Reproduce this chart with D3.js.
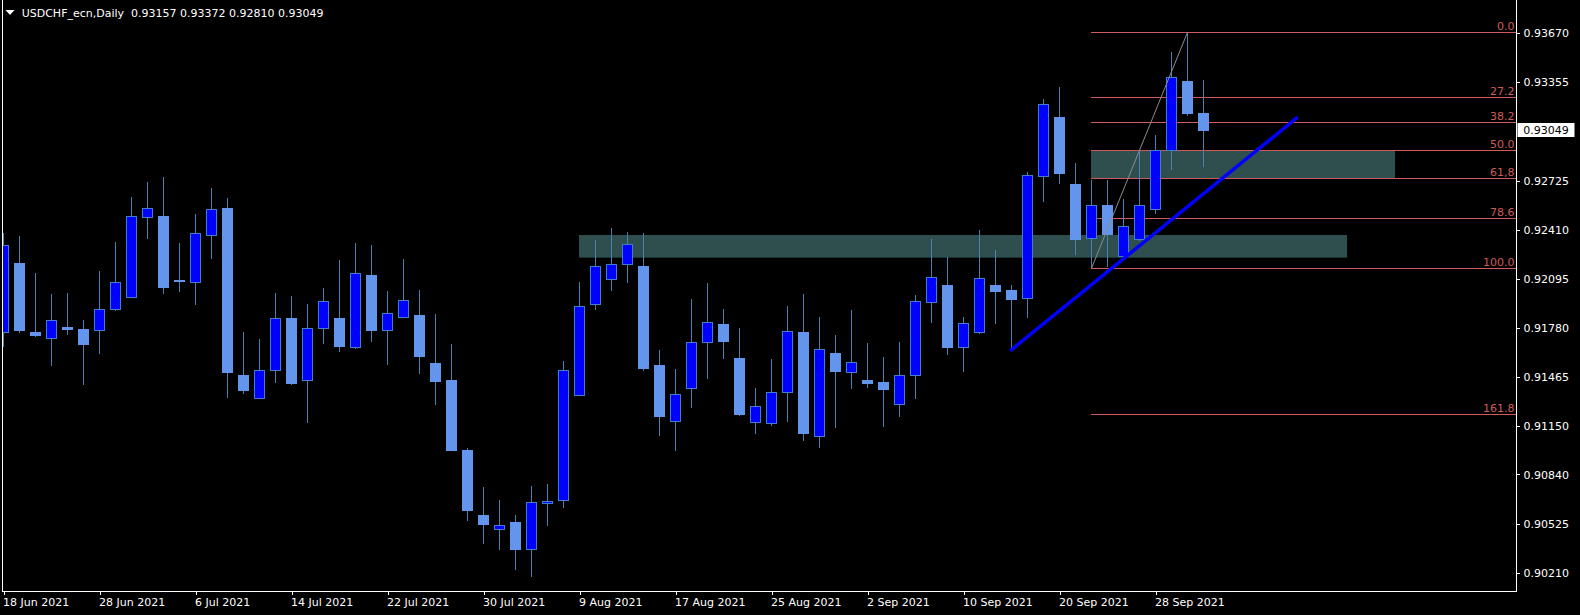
<!DOCTYPE html>
<html><head><meta charset="utf-8">
<script src="https://cdn.jsdelivr.net/npm/d3@7"></script>
<style>
html,body{margin:0;padding:0;background:#000;overflow:hidden}
svg{display:block}
text{font-family:"DejaVu Sans",sans-serif;font-size:11px;}
</style></head><body>
<svg id="c" width="1580" height="615"></svg>
<script>
const symbol = "USDCHF_ecn,Daily";
const openP = [0.91752,0.92195,0.91752,0.91714,0.91784,0.91771,0.91765,0.91900,0.91977,0.92490,
0.92492,0.92086,0.92073,0.92374,0.92543,0.91478,0.91329,0.91508,0.91842,0.91444,
0.91778,0.91842,0.91656,0.92118,0.91765,0.91846,0.91857,0.91549,0.91440,0.90997,
0.90580,0.90489,0.90535,0.90360,0.90653,0.90672,0.91345,0.91929,0.92090,0.92188,
0.92177,0.91542,0.91179,0.91393,0.91688,0.91805,0.91587,0.91175,0.91168,0.91367,
0.91748,0.91084,0.91613,0.91496,0.91440,0.91427,0.91290,0.91474,0.91945,0.92054,
0.91653,0.91752,0.92054,0.92022,0.91970,0.92753,0.93133,0.92703,0.92355,0.92567,
0.92240,0.92346,0.92539,0.92920,0.93364,0.93157];
const highP = [0.92387,0.92370,0.92131,0.91996,0.92002,0.91831,0.92145,0.92329,0.92620,0.92714,
0.92748,0.92323,0.92511,0.92678,0.92614,0.91754,0.91709,0.92004,0.91985,0.91934,
0.92036,0.92216,0.92325,0.92312,0.92017,0.92222,0.92023,0.91870,0.91677,0.91008,
0.90760,0.90676,0.90580,0.90766,0.90779,0.91568,0.92075,0.92344,0.92421,0.92396,
0.92389,0.91639,0.91517,0.91966,0.92068,0.91902,0.91780,0.91395,0.91581,0.91921,
0.91998,0.91848,0.91735,0.91893,0.91684,0.91594,0.91690,0.91991,0.92351,0.92233,
0.91850,0.92408,0.92280,0.92056,0.92778,0.93249,0.93326,0.92836,0.92729,0.92729,
0.92607,0.92915,0.93018,0.93550,0.93676,0.93372];
const lowP = [0.91656,0.91750,0.91724,0.91538,0.91737,0.91414,0.91615,0.91891,0.91975,0.92353,
0.92000,0.92013,0.91929,0.92224,0.91331,0.91358,0.91322,0.91429,0.91416,0.91172,
0.91679,0.91628,0.91647,0.91692,0.91544,0.91844,0.91485,0.91288,0.90990,0.90544,
0.90396,0.90356,0.90227,0.90184,0.90512,0.90627,0.91343,0.91897,0.92019,0.92070,
0.91506,0.91089,0.90993,0.91268,0.91455,0.91583,0.91217,0.91102,0.91153,0.91179,
0.91057,0.91012,0.91140,0.91390,0.91397,0.91147,0.91211,0.91326,0.91814,0.91608,
0.91499,0.91743,0.91807,0.91650,0.91846,0.92590,0.92705,0.92250,0.92163,0.92173,
0.92227,0.92340,0.92511,0.92793,0.93140,0.92810];
const closeP = [0.92308,0.91762,0.91730,0.91829,0.91769,0.91673,0.91900,0.92073,0.92496,0.92548,
0.92038,0.92084,0.92387,0.92541,0.91493,0.91378,0.91508,0.91842,0.91422,0.91778,
0.91951,0.91660,0.92131,0.91762,0.91874,0.91953,0.91596,0.91435,0.90993,0.90608,
0.90522,0.90514,0.90356,0.90662,0.90666,0.91508,0.91919,0.92175,0.92188,0.92317,
0.91519,0.91211,0.91354,0.91688,0.91816,0.91692,0.91224,0.91277,0.91367,0.91759,
0.91102,0.91644,0.91499,0.91560,0.91422,0.91384,0.91476,0.91951,0.92105,0.91653,
0.91810,0.92099,0.92013,0.91961,0.92759,0.93215,0.92769,0.92346,0.92567,0.92378,
0.92432,0.92567,0.92920,0.93388,0.93157,0.93049];

const yTickValues = [0.93670,0.93355,0.92725,0.92410,0.92095,0.91780,0.91465,0.91150,0.90840,0.90525,0.90210];
const xTickLabels = ["18 Jun 2021","28 Jun 2021","6 Jul 2021","14 Jul 2021","22 Jul 2021","30 Jul 2021","9 Aug 2021","17 Aug 2021","25 Aug 2021","2 Sep 2021","10 Sep 2021","20 Sep 2021","28 Sep 2021"];
const xTickBars = [0,6,12,18,24,30,36,42,48,54,60,66,72];

const fibLevels = [0, 27.2, 38.2, 50.0, 61.8, 78.6, 100.0, 161.8];
const fibLabels = ["0.0","27.2","38.2","50.0","61,8","78.6","100.0","161.8"];
const fibLowBar = 68, fibLow = 0.92163, fibHighBar = 74, fibHigh = 0.93676;

const zoneBars = [[36, 84], [68, 87]];
const zone1Prices = [0.92376, 0.92231];
const trendBars = [63, 80.8];
const trendPrices = [0.91640, 0.93125];

const W = 1580, H = 615;
const plotLeft = 2.5, plotRight = 1516.5, plotBottom = 591.5;
const svg = d3.select("#c");
svg.append("rect").attr("width", W).attr("height", H).attr("fill", "#000");

const x = d3.scaleLinear().domain([0, 75]).range([3.5, 1203.5]);
const y = d3.scaleLinear().domain([0.93670, 0.90210]).range([33.3, 572.7]);

const bars = openP.map((o, i) => ({i, o, h: highP[i], l: lowP[i], c: closeP[i]}));
const fibPrice = lv => fibHigh - (fibHigh - fibLow) * lv / 100;

svg.append("clipPath").attr("id", "clip").append("rect")
  .attr("x", 3).attr("y", 0).attr("width", plotRight - 3).attr("height", plotBottom);
const g = svg.append("g").attr("clip-path", "url(#clip)");

// zones
const zones = [
  {b: zoneBars[0], p: zone1Prices},
  {b: zoneBars[1], p: [fibPrice(50), fibPrice(61.8)]}
];
g.selectAll("rect.zone").data(zones).join("rect").attr("class", "zone")
  .attr("x", d => x(d.b[0]) - 0.5)
  .attr("width", d => x(d.b[1]) - x(d.b[0]))
  .attr("y", d => y(d.p[0]))
  .attr("height", d => y(d.p[1]) - y(d.p[0]))
  .attr("fill", "#2F4F4F");

// fib lines
const fibG = g.append("g");
fibG.selectAll("line").data(fibLevels).join("line")
  .attr("x1", x(fibLowBar) - 0.5).attr("x2", plotRight)
  .attr("y1", d => Math.round(y(fibPrice(d))) + 0.5)
  .attr("y2", d => Math.round(y(fibPrice(d))) + 0.5)
  .attr("stroke", "#D05A5A").attr("stroke-width", 1);
fibG.selectAll("text").data(fibLevels).join("text")
  .attr("x", plotRight - 2).attr("y", d => Math.round(y(fibPrice(d))) - 2.5)
  .attr("text-anchor", "end").attr("fill", "#CD5C5C")
  .text((d, i) => fibLabels[i]);

// candles
const cg = g.append("g").attr("shape-rendering", "crispEdges");
cg.selectAll("line.wick").data(bars).join("line").attr("class", "wick")
  .attr("x1", d => x(d.i)).attr("x2", d => x(d.i))
  .attr("y1", d => y(d.h)).attr("y2", d => y(d.l))
  .attr("stroke", "#4682B4").attr("stroke-width", 1);
cg.selectAll("rect.body").data(bars).join("rect").attr("class", "body")
  .attr("x", d => x(d.i) - 5)
  .attr("width", 10)
  .attr("y", d => y(Math.max(d.o, d.c)))
  .attr("height", d => Math.max(1, Math.abs(y(d.o) - y(d.c))))
  .attr("fill", d => d.c >= d.o ? "#0000FF" : "#6495ED")
  .attr("stroke", d => d.c >= d.o ? "#3D7FCC" : "#6495ED")
  .attr("stroke-width", 1);

// fib diagonal
g.append("line")
  .attr("x1", x(fibLowBar)).attr("y1", y(fibLow))
  .attr("x2", x(fibHighBar)).attr("y2", y(fibHigh))
  .attr("stroke", "#8C8C8C").attr("stroke-width", 1);

// trend line
g.append("line")
  .attr("x1", x(trendBars[0])).attr("y1", y(trendPrices[0]))
  .attr("x2", x(trendBars[1])).attr("y2", y(trendPrices[1]))
  .attr("stroke", "#0000FF").attr("stroke-width", 3.5).attr("stroke-linecap", "square");

// frame
svg.append("path")
  .attr("d", `M${plotLeft},0V${plotBottom}H${plotRight}V0`)
  .attr("fill", "none").attr("stroke", "#fff").attr("stroke-width", 1)
  .attr("shape-rendering", "crispEdges");

// right axis
const yAxis = svg.append("g").attr("transform", `translate(${plotRight},0)`)
  .call(d3.axisRight(y).tickValues(yTickValues).tickSize(3).tickSizeOuter(0)
    .tickPadding(4).tickFormat(d3.format(".5f")));
yAxis.select(".domain").remove();
yAxis.selectAll("line").attr("stroke", "#fff").attr("shape-rendering", "crispEdges");
yAxis.selectAll("text").attr("fill", "#fff").style("font-family", '"DejaVu Sans",sans-serif').style("font-size", "11px");

// bottom axis
const xAxis = svg.append("g").attr("transform", `translate(0,${plotBottom})`)
  .call(d3.axisBottom(x).tickValues(xTickBars).tickSize(3).tickSizeOuter(0)
    .tickPadding(4).tickFormat((d, i) => xTickLabels[i]));
xAxis.select(".domain").remove();
xAxis.selectAll("line").attr("stroke", "#fff").attr("shape-rendering", "crispEdges");
xAxis.selectAll("text").attr("fill", "#fff").attr("text-anchor", "start").attr("x", -1)
  .style("font-family", '"DejaVu Sans",sans-serif').style("font-size", "11px");

// current price label
const last = bars[bars.length - 1];
const py = y(last.c);
svg.append("rect").attr("x", plotRight + 1).attr("y", Math.round(py) - 7)
  .attr("width", 57).attr("height", 14).attr("fill", "#fff");
svg.append("text").attr("x", plotRight + 6.8).attr("y", py).attr("dy", "0.36em")
  .attr("fill", "#000").text(d3.format(".5f")(last.c));

// title
svg.append("path").attr("d", "M5.5,10L14.5,10L10,15Z").attr("fill", "#fff");
const f5 = d3.format(".5f");
svg.append("text").attr("x", 21.7).attr("y", 17).attr("fill", "#fff")
  .attr("xml:space", "preserve").style("white-space", "pre")
  .text(`${symbol}  ${f5(last.o)} ${f5(last.h)} ${f5(last.l)} ${f5(last.c)}`);
</script>
</body></html>
